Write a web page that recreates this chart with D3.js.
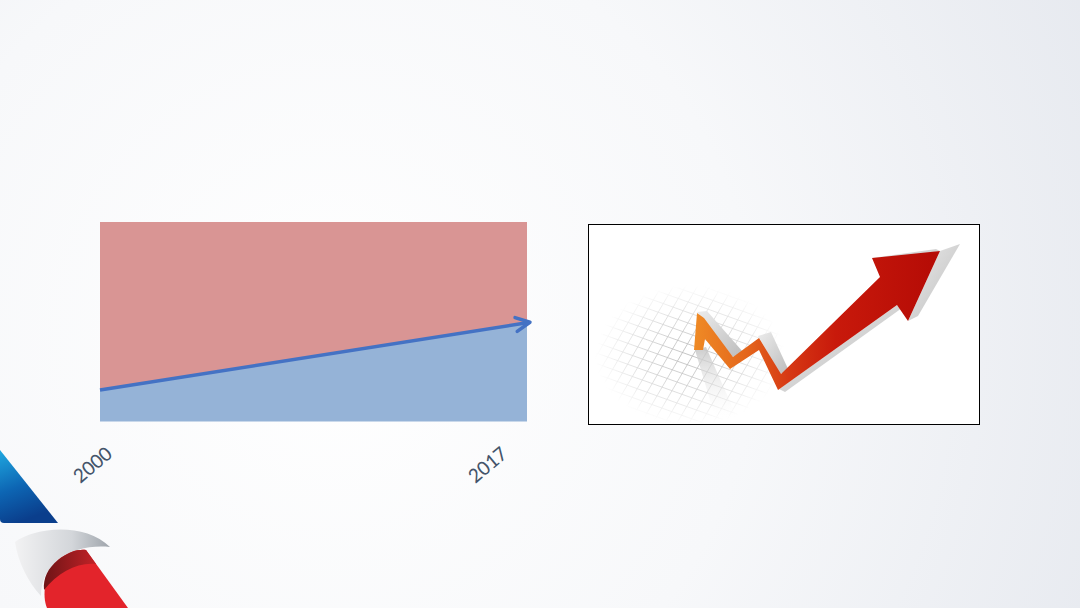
<!DOCTYPE html>
<html>
<head>
<meta charset="utf-8">
<script src="https://cdn.jsdelivr.net/npm/d3@7"></script>
<style>
  html, body { margin: 0; padding: 0; overflow: hidden; }
  svg { display: block; }
</style>
</head>
<body>
<svg id="slide" width="1080" height="608"></svg>
<script>
// chart values (share of the total, percent)
const years = [2000, 2017];
const blueShare = [15.8, 49.5];
const redShare = [84.2, 50.5];
const yearLabels = ["2000", "2017"];

const W = 1080, H = 608;
const svg = d3.select("#slide");
const defs = svg.append("defs");

// slide background
const bg = defs.append("radialGradient")
  .attr("id", "bg").attr("gradientUnits", "userSpaceOnUse")
  .attr("cx", 330).attr("cy", 340).attr("r", 850);
bg.append("stop").attr("offset", "0%").attr("stop-color", "#ffffff");
bg.append("stop").attr("offset", "50%").attr("stop-color", "#f7f8fa");
bg.append("stop").attr("offset", "100%").attr("stop-color", "#e6e9ef");
svg.append("rect").attr("width", W).attr("height", H).attr("fill", "url(#bg)");

// ---- stacked area chart ----
const x = d3.scaleLinear().domain(d3.extent(years)).range([100, 527]);
const y = d3.scaleLinear().domain([0, 100]).range([421.5, 222]);

let rows = years.map((yr, i) => ({ year: yr, blue: blueShare[i], red: redShare[i] }));
let series = d3.stack().keys(["blue", "red"])(rows);
let colors = { blue: "#95b3d7", red: "#d99594" };

let area = d3.area()
  .x(d => x(d.data.year))
  .y0(d => y(d[0]))
  .y1(d => y(d[1]));

svg.append("g")
  .selectAll("path")
  .data(series)
  .join("path")
  .attr("d", area)
  .attr("fill", d => colors[d.key]);

// trend arrow on the boundary
defs.append("marker")
  .attr("id", "arrowhead")
  .attr("markerUnits", "userSpaceOnUse")
  .attr("viewBox", "-20 -12 26 24")
  .attr("markerWidth", 26).attr("markerHeight", 24)
  .attr("refX", -3).attr("refY", 0)
  .attr("orient", "auto")
  .append("path")
  .attr("d", "M-14,-7L0,0L-14,7")
  .attr("fill", "none")
  .attr("stroke", "#4472c4")
  .attr("stroke-width", 3.5)
  .attr("stroke-linecap", "round")
  .attr("stroke-linejoin", "round");

svg.append("path")
  .datum(rows)
  .attr("d", d3.line().x(d => x(d.year)).y(d => y(d.blue)))
  .attr("fill", "none")
  .attr("stroke", "#4472c4")
  .attr("stroke-width", 3.5)
  .attr("marker-end", "url(#arrowhead)");

// rotated year labels
const labelDx = [-3, -35];
svg.append("g")
  .selectAll("text")
  .data(yearLabels)
  .join("text")
  .attr("transform", (d, i) => `translate(${x(years[i]) + labelDx[i]},${470}) rotate(-40)`)
  .attr("text-anchor", "middle")
  .attr("font-family", "Carlito, Lato, 'Open Sans', sans-serif")
  .attr("font-size", 21.5)
  .attr("fill", "#44546a")
  .text(d => d);

// ---- picture box with the 3D arrow ----
const box = { x: 588.5, y: 224.5, w: 391, h: 200 };
defs.append("clipPath").attr("id", "boxclip")
  .append("rect").attr("x", box.x).attr("y", box.y).attr("width", box.w).attr("height", box.h);

svg.append("rect")
  .attr("x", box.x).attr("y", box.y).attr("width", box.w).attr("height", box.h)
  .attr("fill", "#ffffff");

const pic = svg.append("g").attr("clip-path", "url(#boxclip)");

// perspective grid fading out
const gridFade = defs.append("radialGradient")
  .attr("id", "gridfade").attr("gradientUnits", "userSpaceOnUse")
  .attr("cx", 0).attr("cy", 0).attr("r", 1)
  .attr("gradientTransform", "translate(690,355) scale(95,70)");
gridFade.append("stop").attr("offset", "0%").attr("stop-color", "#fff");
gridFade.append("stop").attr("offset", "50%").attr("stop-color", "#999");
gridFade.append("stop").attr("offset", "100%").attr("stop-color", "#000");
defs.append("mask").attr("id", "gridmask")
  .attr("maskUnits", "userSpaceOnUse")
  .attr("x", 0).attr("y", 0).attr("width", W).attr("height", H)
  .append("rect").attr("width", W).attr("height", H).attr("fill", "url(#gridfade)");

const grid = pic.append("g").attr("mask", "url(#gridmask)")
  .attr("stroke", "#b4b4b4").attr("stroke-width", 0.8).attr("fill", "none");
d3.range(-14, 15).forEach(k => {
  // shallow lines running down to the right
  grid.append("line")
    .attr("x1", 560).attr("y1", 330 + k * 10.5 - 60 * 0.36)
    .attr("x2", 820).attr("y2", 330 + k * 10.5 + 200 * 0.36);
  // steep lines running down to the left
  grid.append("line")
    .attr("x1", 700 + k * 12 + 55).attr("y1", 270)
    .attr("x2", 700 + k * 12 - 45).attr("y2", 440);
});

// reflection under the spike
const refl = defs.append("linearGradient")
  .attr("id", "refl").attr("gradientUnits", "userSpaceOnUse")
  .attr("x1", 0).attr("y1", 348).attr("x2", 0).attr("y2", 420);
refl.append("stop").attr("offset", "0%").attr("stop-color", "#c4c4c4").attr("stop-opacity", 0.85);
refl.append("stop").attr("offset", "100%").attr("stop-color", "#ffffff").attr("stop-opacity", 0);
pic.append("path")
  .attr("d", "M695,350L706,347L738,420L716,420Z")
  .attr("fill", "url(#refl)");

// grey top/side faces
const greyGrad = defs.append("linearGradient")
  .attr("id", "greyface").attr("x1", "0%").attr("y1", "0%").attr("x2", "100%").attr("y2", "100%");
greyGrad.append("stop").attr("offset", "0%").attr("stop-color", "#ececec");
greyGrad.append("stop").attr("offset", "100%").attr("stop-color", "#bcbcbc");

const greyFaces = [
  "M697,312L707,311L743,352L733,357Z",
  "M758,336L771,332L789,371L780,374Z",
  "M779,389L897,305L902,308L785,392Z",
  "M940,251L960,244L918,316L908,321Z",
  "M872,258L936,249L940,251L878,262Z"
];
pic.append("g").selectAll("path").data(greyFaces).join("path")
  .attr("d", d => d)
  .attr("fill", "url(#greyface)");

// front face of the zigzag arrow
const front = defs.append("linearGradient")
  .attr("id", "front").attr("gradientUnits", "userSpaceOnUse")
  .attr("x1", 695).attr("y1", 0).attr("x2", 930).attr("y2", 0);
front.append("stop").attr("offset", "0%").attr("stop-color", "#ef8a25");
front.append("stop").attr("offset", "22%").attr("stop-color", "#e4661c");
front.append("stop").attr("offset", "40%").attr("stop-color", "#d63814");
front.append("stop").attr("offset", "60%").attr("stop-color", "#c8190b");
front.append("stop").attr("offset", "100%").attr("stop-color", "#b60c06");

pic.append("path")
  .attr("d", "M694,350L697,313L704,318L733,357L759,338L781,374L880,277L872,258L940,251L908,321L897,305L778,390L759,350L730,369L705,339L703,350Z")
  .attr("fill", "url(#front)");

svg.append("rect")
  .attr("x", box.x).attr("y", box.y).attr("width", box.w).attr("height", box.h)
  .attr("fill", "none").attr("stroke", "#000").attr("stroke-width", 1);

// ---- corner logo ----
const blueLogo = defs.append("linearGradient")
  .attr("id", "bluelogo").attr("x1", "0%").attr("y1", "0%").attr("x2", "30%").attr("y2", "100%");
blueLogo.append("stop").attr("offset", "0%").attr("stop-color", "#1fa8e0");
blueLogo.append("stop").attr("offset", "55%").attr("stop-color", "#0d65b3");
blueLogo.append("stop").attr("offset", "100%").attr("stop-color", "#0a3e8c");
svg.append("path")
  .attr("d", "M0,450L58,523L4,523Q0,523 0,519Z")
  .attr("fill", "url(#bluelogo)");

const greyLogo = defs.append("linearGradient")
  .attr("id", "greylogo").attr("x1", "0%").attr("y1", "0%").attr("x2", "100%").attr("y2", "0%");
greyLogo.append("stop").attr("offset", "0%").attr("stop-color", "#f2f2f3");
greyLogo.append("stop").attr("offset", "60%").attr("stop-color", "#d3d6da");
greyLogo.append("stop").attr("offset", "100%").attr("stop-color", "#9ea4ab");
svg.append("path")
  .attr("d", "M15,542C35,527 85,522 110,547C92,545 72,549 58,560C46,570 41,582 41,596C28,582 18,562 15,542Z")
  .attr("fill", "url(#greylogo)");

svg.append("path")
  .attr("d", "M58,560C68,552 78,549 86,550L128,608L47,608C42,596 44,575 58,560Z")
  .attr("fill", "#e3242b");

const darkRed = defs.append("linearGradient")
  .attr("id", "darkred").attr("x1", "0%").attr("y1", "0%").attr("x2", "100%").attr("y2", "0%");
darkRed.append("stop").attr("offset", "0%").attr("stop-color", "#6e1416");
darkRed.append("stop").attr("offset", "100%").attr("stop-color", "#c22227");
svg.append("path")
  .attr("d", "M58,560C68,552 78,549 86,550L96,564C78,562 58,572 44,590C43,578 48,568 58,560Z")
  .attr("fill", "url(#darkred)");
</script>
</body>
</html>
